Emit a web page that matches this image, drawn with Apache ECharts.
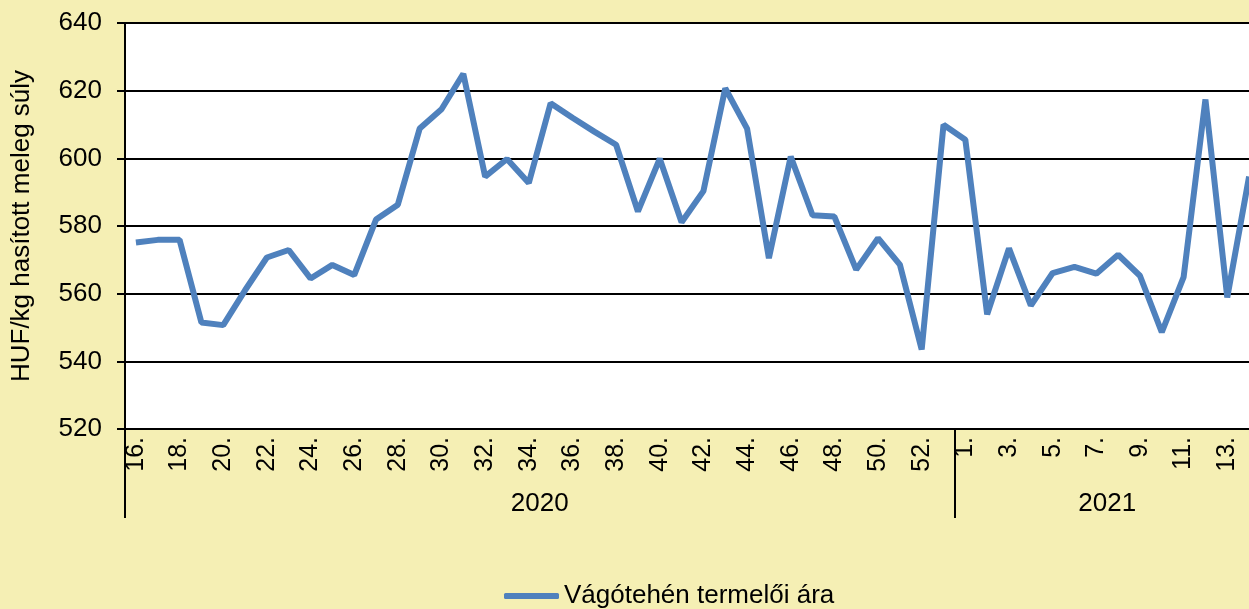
<!DOCTYPE html>
<html><head><meta charset="utf-8">
<script src="https://cdn.jsdelivr.net/npm/echarts@6/dist/echarts.min.js"></script>
<style>html,body{margin:0;padding:0;background:#F5EFB4;}#c{width:1249px;height:609px;}</style>
</head><body><div id="c"></div>
<script>
const weeks2020 = ['16.','17.','18.','19.','20.','21.','22.','23.','24.','25.','26.','27.','28.','29.','30.','31.','32.','33.','34.','35.','36.','37.','38.','39.','40.','41.','42.','43.','44.','45.','46.','47.','48.','49.','50.','51.','52.','53.'];
const weeks2021 = ['1.','2.','3.','4.','5.','6.','7.','8.','9.','10.','11.','12.','13.','14.'];
const years = ['2020','2021'];
const prices2020 = [575.1,575.9,575.9,551.5,550.7,561.0,570.7,572.9,564.5,568.5,565.5,581.9,586.3,608.8,614.5,625.0,594.6,599.8,592.7,616.3,612.0,607.9,604.0,584.3,599.9,581.1,590.3,620.7,608.8,570.5,600.5,583.2,582.8,567.1,576.4,568.6,543.5,609.9];
const prices2021 = [605.5,553.9,573.4,556.5,566.1,567.9,565.9,571.5,565.3,548.6,564.9,617.4,558.9,594.6];
const yMin = 520, yMax = 640, yStep = 20;
const seriesName = 'Vágótehén termelői ára';
const yAxisName = 'HUF/kg hasított meleg súly';

const FONT = '"Liberation Sans", Arial, sans-serif';
const categories = weeks2020.concat(weeks2021);
const values = prices2020.concat(prices2021);
const n = categories.length;
const yearStart = [0, weeks2020.length];
const yearMid = [weeks2020.length / 2, weeks2020.length + weeks2021.length / 2];

const chart = echarts.init(document.getElementById('c'), null, {renderer: 'canvas'});
chart.setOption({
  backgroundColor: '#F5EFB4',
  textStyle: {fontFamily: FONT},
  animation: false,
  grid: [
    {left: 125, top: 23, right: -11, bottom: 180, show: true, backgroundColor: '#ffffff', borderWidth: 0, containLabel: false, outerBoundsMode: 'none'},
    {left: 125, top: 23, right: -11, bottom: 180, show: false, containLabel: false, outerBoundsMode: 'none'}
  ],
  xAxis: [
    {type: 'category', gridIndex: 0, data: categories, boundaryGap: true,
     axisLine: {show: true, lineStyle: {color: '#000', width: 2}},
     axisTick: {show: false},
     axisLabel: {rotate: 90, interval: 1, margin: 8, fontSize: 25, color: '#000', fontFamily: FONT}},
    {type: 'value', gridIndex: 1, min: 0, max: n,
     axisLine: {show: false}, splitLine: {show: false},
     axisTick: {show: true, customValues: yearStart, length: 89, lineStyle: {color: '#000', width: 2}},
     axisLabel: {show: true, customValues: yearMid, formatter: v => years[yearMid.indexOf(v)] || '', margin: 62, fontSize: 26, color: '#000', fontFamily: FONT}}
  ],
  yAxis: [
    {type: 'value', gridIndex: 0, min: yMin, max: yMax, interval: yStep,
     name: yAxisName, nameLocation: 'middle', nameGap: 90,
     nameTextStyle: {fontSize: 26, color: '#000', fontFamily: FONT},
     axisLine: {show: true, lineStyle: {color: '#000', width: 2}},
     axisTick: {show: true, length: 8, lineStyle: {color: '#000', width: 2}},
     axisLabel: {fontSize: 26, color: '#000', margin: 23, fontFamily: FONT},
     splitLine: {show: true, lineStyle: {color: '#000', width: 2}}},
    {type: 'value', gridIndex: 1, min: 0, max: 1, show: false}
  ],
  legend: {
    left: 504, top: 583, padding: 0, icon: 'roundRect', itemWidth: 55, itemHeight: 6, itemGap: 8,
    textStyle: {fontSize: 26, color: '#000', fontFamily: FONT},
    data: [seriesName]
  },
  series: [{
    type: 'line', name: seriesName, xAxisIndex: 0, yAxisIndex: 0, data: values,
    symbol: 'none', lineStyle: {color: '#4F81BD', width: 6}, itemStyle: {color: '#4F81BD'}
  }]
});
</script></body></html>
